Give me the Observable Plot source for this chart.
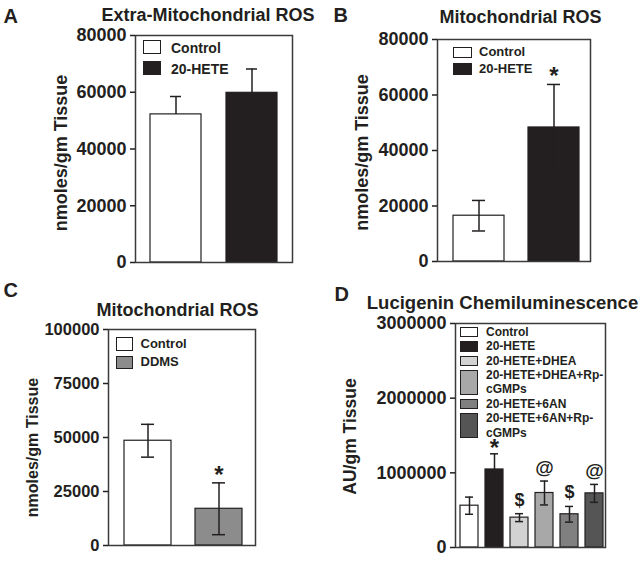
<!DOCTYPE html>
<html><head><meta charset="utf-8">
<script src="https://cdn.jsdelivr.net/npm/d3@7"></script>
<script src="https://cdn.jsdelivr.net/npm/@observablehq/plot@0.6"></script>
<style>
body{margin:0;background:#fff;}
#fig{position:relative;width:639px;height:562px;overflow:hidden;font-family:"Liberation Sans",Arial,sans-serif;font-weight:bold;color:#231f20;}
.panel{position:absolute;}
.panel svg{display:block;}
.legend{position:absolute;}
.row{display:flex;align-items:stretch;}
.sw{box-sizing:border-box;border:1.5px solid #231f20;flex:none;}
.lt{white-space:normal;}
</style></head><body><div id="fig"></div>
<script>
// ---- data ----
const catsAB = ["Control", "20-HETE"];
const colorsAB = ["#ffffff", "#231f20"];
const ticksAB = [0, 20000, 40000, 60000, 80000];

const valuesA = [52200, 59800];
const errorsA = [6300, 8400];
const marksA = ["", ""];

const valuesB = [16500, 48300];
const errorsB = [5500, 15500];
const marksB = ["", "*"];

const catsC = ["Control", "DDMS"];
const colorsC = ["#ffffff", "#8c8c8c"];
const valuesC = [48500, 17000];
const errorsC = [7600, 12000];
const marksC = ["", "*"];
const ticksC = [0, 25000, 50000, 75000, 100000];

const catsD = ["Control", "20-HETE", "20-HETE+DHEA", "20-HETE+DHEA+Rp-cGMPs", "20-HETE+6AN", "20-HETE+6AN+Rp-cGMPs"];
const colorsD = ["#ffffff", "#231f20", "#d2d2d2", "#a8a8a8", "#808080", "#555555"];
const valuesD = [560000, 1045000, 400000, 730000, 445000, 725000];
const errorsD = [115000, 210000, 53000, 160000, 105000, 120000];
const marksD = ["", "*", "$", "@", "$", "@"];
const ticksD = [0, 1000000, 2000000, 3000000];

const INK = "#231f20";
const FONT = '"Liberation Sans", Arial, sans-serif';

function panel(cfg) {
  const data = cfg.cats.map((c, i) => ({cat: c, value: cfg.values[i], err: cfg.errors[i], mark: cfg.marks[i]}));
  const hi = d => d.value + d.err;
  const lo = d => cfg.upperOnly ? d.value : d.value - d.err;
  const marks = [
    Plot.barY(data, {x: "cat", y: "value", fill: "cat", stroke: INK, strokeWidth: 1.2}),
    Plot.ruleX(data, {x: "cat", y1: lo, y2: hi, stroke: INK, strokeWidth: 1.5}),
    Plot.tickY(data, {x: "cat", y: hi, stroke: INK, strokeWidth: 1.5, insetLeft: cfg.cap, insetRight: cfg.cap})
  ];
  if (!cfg.upperOnly) marks.push(Plot.tickY(data, {x: "cat", y: lo, stroke: INK, strokeWidth: 1.5, insetLeft: cfg.cap, insetRight: cfg.cap}));
  for (const s of cfg.symbols) {
    marks.push(Plot.text(data.filter(d => d.mark === s.ch), {x: "cat", y: hi, text: "mark", lineAnchor: "bottom", dy: s.dy, fontSize: s.size, fontWeight: "bold", fill: INK}));
  }
  marks.push(
    Plot.frame({stroke: "#3a3a3a", strokeWidth: 1.5}),
    Plot.axisY({ticks: cfg.ticks, tickFormat: d => String(d), tickSize: 5, tickPadding: 4, fontSize: cfg.tickFont, fontWeight: "bold", label: null, stroke: INK, strokeWidth: 1.5}),
    Plot.text([cfg.title], {text: d => d, frameAnchor: "top", dx: cfg.tdx, dy: cfg.tdy, lineAnchor: "bottom", fontSize: cfg.titleFont, fontWeight: "bold", fill: INK}),
    Plot.text([cfg.letter], {text: d => d, frameAnchor: "top-left", textAnchor: "start", dx: cfg.ldx, dy: cfg.ldy, lineAnchor: "bottom", fontSize: 20, fontWeight: "bold", fill: INK}),
    Plot.text([cfg.ylabel], {text: d => d, frameAnchor: "left", textAnchor: "middle", rotate: -90, dx: cfg.ydx, dy: cfg.ydy, lineAnchor: "middle", fontSize: cfg.yFont, fontWeight: "bold", fill: INK})
  );
  const svg = Plot.plot({
    width: cfg.width, height: cfg.height,
    marginLeft: cfg.ml, marginRight: cfg.mr, marginTop: cfg.mt, marginBottom: cfg.mb,
    style: {fontFamily: FONT, fontWeight: "bold", color: INK, background: "transparent", overflow: "visible"},
    x: {type: "band", domain: cfg.cats, axis: null, paddingInner: cfg.pi, paddingOuter: cfg.po, align: cfg.align},
    y: {domain: cfg.domain, label: null},
    color: {domain: cfg.cats, range: cfg.colors},
    marks
  });
  const wrap = document.createElement("div");
  wrap.className = "panel";
  wrap.style.left = cfg.px + "px";
  wrap.style.top = cfg.py + "px";
  wrap.appendChild(svg);
  document.getElementById("fig").appendChild(wrap);

  // legend overlay
  const lg = document.createElement("div");
  lg.className = "legend";
  Object.assign(lg.style, {left: cfg.lg.x + "px", top: cfg.lg.y + "px", fontSize: cfg.lg.fs + "px", lineHeight: cfg.lg.lh + "px"});
  cfg.cats.forEach((c, i) => {
    const row = document.createElement("div");
    row.className = "row";
    const sw = document.createElement("div");
    sw.className = "sw";
    Object.assign(sw.style, {width: cfg.lg.sw + "px", margin: cfg.lg.m + "px 0", background: cfg.colors[i]});
    const t = document.createElement("div");
    t.className = "lt";
    Object.assign(t.style, {paddingLeft: cfg.lg.gap + "px", width: cfg.lg.tw + "px", position: "relative", top: (cfg.lg.tdy || 0) + "px"});
    t.textContent = c;
    row.appendChild(sw);
    row.appendChild(t);
    lg.appendChild(row);
  });
  document.getElementById("fig").appendChild(lg);
}

panel({
  px: 0, py: 0, width: 320, height: 280, ml: 135, mr: 28, mt: 35, mb: 18,
  cats: catsAB, colors: colorsAB, values: valuesA, errors: errorsA, marks: marksA, upperOnly: true,
  domain: [0, 80000], ticks: ticksAB, tickFont: 18, pi: 0.325, po: 0.182, align: 0.5, cap: 20,
  symbols: [],
  title: "Extra-Mitochondrial ROS", titleFont: 18, tdx: -6, tdy: -15,
  letter: "A", ldx: -132, ldy: -13,
  ylabel: "nmoles/gm Tissue", yFont: 18, ydx: -74, ydy: 4,
  lg: {x: 143, y: 36.5, fs: 14, lh: 21, sw: 18, m: 3.5, gap: 10, tw: 120, tdy: 1.5}
});

panel({
  px: 320, py: 0, width: 319, height: 280, ml: 117, mr: 49, mt: 39, mb: 19,
  cats: catsAB, colors: colorsAB, values: valuesB, errors: errorsB, marks: marksB, upperOnly: false,
  domain: [0, 80000], ticks: ticksAB, tickFont: 18, pi: 0.32, po: 0.18, align: 0.59, cap: 19,
  symbols: [{ch: "*", size: 24, dy: 0}],
  title: "Mitochondrial ROS", titleFont: 18, tdx: 6.5, tdy: -17,
  letter: "B", ldx: -104, ldy: -18,
  ylabel: "nmoles/gm Tissue", yFont: 18, ydx: -75, ydy: 2,
  lg: {x: 453, y: 44.2, fs: 13, lh: 16.6, sw: 19, m: 2.5, gap: 7, tw: 120}
});

panel({
  px: 0, py: 280, width: 320, height: 282, ml: 108, mr: 65, mt: 49, mb: 17,
  cats: catsC, colors: colorsC, values: valuesC, errors: errorsC, marks: marksC, upperOnly: false,
  domain: [0, 100000], ticks: ticksC, tickFont: 16.5, pi: 0.333, po: 0.1875, align: 0.556, cap: 17,
  symbols: [{ch: "*", size: 24, dy: 0}],
  title: "Mitochondrial ROS", titleFont: 18, tdx: -4.5, tdy: -14,
  letter: "C", ldx: -105, ldy: -33,
  ylabel: "nmoles/gm Tissue", yFont: 16, ydx: -76, ydy: 10,
  lg: {x: 116, y: 334.65, fs: 13, lh: 18.7, sw: 17, m: 2.65, gap: 7.5, tw: 120}
});

panel({
  px: 320, py: 280, width: 319, height: 282, ml: 135, mr: 34, mt: 43, mb: 15,
  cats: catsD, colors: colorsD, values: valuesD, errors: errorsD, marks: marksD, upperOnly: false,
  domain: [0, 3000000], ticks: ticksD, tickFont: 18, pi: 0.286, po: 0.119, align: 0.67, cap: 5,
  symbols: [{ch: "*", size: 24, dy: 2}, {ch: "$", size: 18, dy: -8}, {ch: "@", size: 19, dy: -7}],
  title: "Lucigenin Chemiluminescence", titleFont: 18.5, tdx: -28, tdy: -15,
  letter: "D", ldx: -121, ldy: -23,
  ylabel: "AU/gm Tissue", yFont: 17.5, ydx: -105, ydy: 1,
  lg: {x: 460, y: 324.7, fs: 12, lh: 14.4, sw: 18, m: 2, gap: 8, tw: 125}
});
</script></body></html>
